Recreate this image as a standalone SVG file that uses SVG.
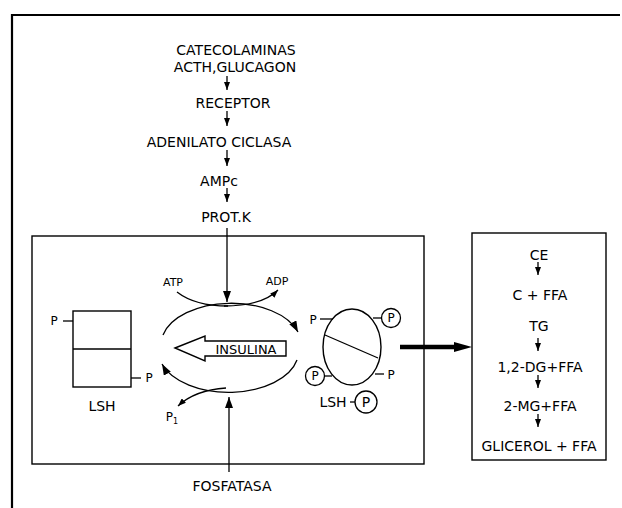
<svg xmlns="http://www.w3.org/2000/svg" width="622" height="508" viewBox="0 0 622 508">
<style>
.t{font-family:"DejaVu Sans",sans-serif;font-size:14px;fill:#000;text-anchor:middle}
.s{font-family:"DejaVu Sans",sans-serif;font-size:10px;fill:#000;text-anchor:middle}
.ln{fill:none;stroke:#000;stroke-width:1.3}
.bx{fill:none;stroke:#000;stroke-width:1.4}
</style>
<defs>
<marker id="ah" markerUnits="userSpaceOnUse" markerWidth="11" markerHeight="8" refX="11" refY="4" orient="auto"><path d="M0,0 L11,4 L0,8 z" fill="#000"/></marker>
<marker id="as" markerUnits="userSpaceOnUse" markerWidth="8" markerHeight="6" refX="8" refY="3" orient="auto"><path d="M0,0 L8,3 L0,6 z" fill="#000"/></marker>
<marker id="ab" markerUnits="userSpaceOnUse" markerWidth="18" markerHeight="10" refX="18" refY="5" orient="auto"><path d="M0,0 L18,5 L0,10 z" fill="#000"/></marker>
</defs>
<g id="frame"><polyline points="12,508 12,15 620,15" style="fill:none;stroke:#000;stroke-width:2.2"/></g>
<g id="cell-box"><rect class="bx" x="32" y="236" width="392" height="228"/></g>
<g id="lipid-box"><rect class="bx" x="472" y="233" width="134" height="227"/></g>
<g id="n-catecol"><text class="t" x="236" y="55">CATECOLAMINAS</text><text class="t" x="235" y="72">ACTH,GLUCAGON</text></g>
<g id="n-receptor"><text class="t" x="233" y="108">RECEPTOR</text></g>
<g id="n-adenilato"><text class="t" x="219" y="147">ADENILATO CICLASA</text></g>
<g id="n-ampc"><text class="t" x="219" y="186">AMPc</text></g>
<g id="n-protk"><text class="t" x="226" y="222">PROT.K</text></g>
<g id="n-fosfatasa"><text class="t" x="232" y="491">FOSFATASA</text></g>
<g id="n-lsh">
<rect class="bx" x="73" y="311" width="58" height="76"/>
<line class="ln" x1="73" y1="349" x2="131" y2="349"/>
<line class="ln" x1="63" y1="321" x2="73" y2="321"/>
<text class="s" x="54" y="325" style="font-size:12px">P</text>
<line class="ln" x1="131" y1="378" x2="141" y2="378"/>
<text class="s" x="149" y="382" style="font-size:12px">P</text>
<text class="t" x="102" y="411">LSH</text>
</g>
<g id="n-lshp">
<ellipse class="bx" cx="352" cy="347" rx="29" ry="38"/>
<line class="ln" x1="325" y1="335" x2="378" y2="358"/>
<line class="ln" x1="320" y1="319" x2="333" y2="319"/>
<text class="s" x="313" y="324" style="font-size:12px">P</text>
<line class="ln" x1="373" y1="318" x2="382" y2="318"/>
<circle class="ln" cx="391" cy="318" r="9.5"/>
<text class="s" x="391" y="322" style="font-size:12px">P</text>
<line class="ln" x1="324" y1="376" x2="332" y2="376"/>
<circle class="ln" cx="315" cy="376" r="9.5"/>
<text class="s" x="315" y="380" style="font-size:12px">P</text>
<line class="ln" x1="375" y1="374" x2="384" y2="374"/>
<text class="s" x="391" y="379" style="font-size:12px">P</text>
<text class="t" x="333" y="407">LSH</text>
<line class="ln" x1="350" y1="402" x2="355" y2="402"/>
<circle class="ln" cx="366" cy="402" r="11"/>
<text class="t" x="366" y="407">P</text>
</g>
<g id="n-insulina">
<polygon class="bx" points="175,348 205,336 205,341 286,341 286,356 205,356 205,361"/>
<text class="t" x="246" y="354" style="font-size:13px">INSULINA</text>
</g>
<g id="n-cycle-labels">
<text class="s" x="173" y="286" style="font-size:11px">ATP</text>
<text class="s" x="277" y="285" style="font-size:11px">ADP</text>
<text class="s" x="172" y="421" style="font-size:12px">P<tspan font-size="8" dy="3">1</tspan></text>
</g>
<g id="n-lipids">
<text class="t" x="539" y="260">CE</text>
<text class="t" x="540" y="300">C + FFA</text>
<text class="t" x="539" y="331">TG</text>
<text class="t" x="540" y="372">1,2-DG+FFA</text>
<text class="t" x="540" y="411">2-MG+FFA</text>
<text class="t" x="539" y="451">GLICEROL + FFA</text>
</g>
<g id="connectors">
<line class="ln" x1="227" y1="76" x2="227" y2="90" marker-end="url(#as)"/>
<line class="ln" x1="227" y1="111" x2="227" y2="126" marker-end="url(#as)"/>
<line class="ln" x1="227" y1="150" x2="227" y2="166" marker-end="url(#as)"/>
<line class="ln" x1="227" y1="188" x2="227" y2="202" marker-end="url(#as)"/>
<line class="ln" x1="227" y1="228" x2="227" y2="302" marker-end="url(#ah)"/>
<line class="ln" x1="229" y1="472" x2="229" y2="397" marker-end="url(#ah)"/>
<path class="ln" d="M163,335 A70,41 0 0 1 298,332" marker-end="url(#ah)"/>
<path class="ln" d="M297,360 A70,41 0 0 1 162,364" marker-end="url(#ah)"/>
<path class="ln" d="M177,292 Q195,306 228,306"/>
<path class="ln" d="M224,306 Q262,306 278,290" marker-end="url(#as)"/>
<path class="ln" d="M226,388 Q195,390 178,406" marker-end="url(#as)"/>
<line x1="400" y1="347" x2="456" y2="347" style="stroke:#000;stroke-width:4.5"/>
<path d="M454,342 L472,347 L454,352 z" fill="#000"/>
<line class="ln" x1="538" y1="262" x2="538" y2="275" marker-end="url(#as)"/>
<line class="ln" x1="538" y1="338" x2="538" y2="351" marker-end="url(#as)"/>
<line class="ln" x1="538" y1="375" x2="538" y2="388" marker-end="url(#as)"/>
<line class="ln" x1="538" y1="414" x2="538" y2="427" marker-end="url(#as)"/>
</g>
</svg>
